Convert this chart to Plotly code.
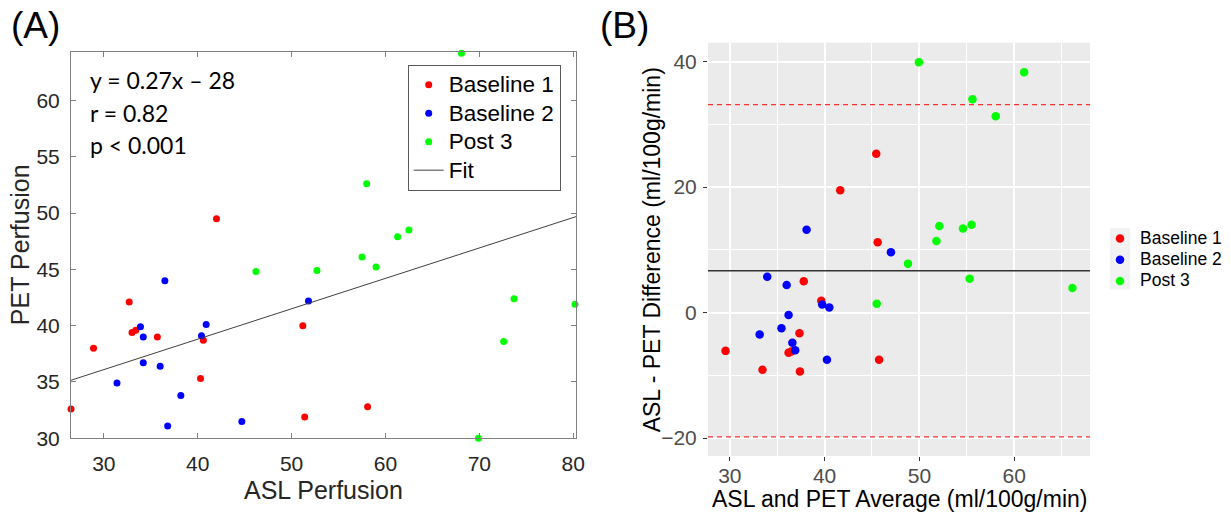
import numpy as np
import plotly.graph_objects as go

W, H = 1231, 514

# ---- data: ASL vs PET perfusion per session group ----
groups = ["Baseline 1", "Baseline 2", "Post 3"]
colors = {"Baseline 1": "#FF0000", "Baseline 2": "#0000FF", "Post 3": "#00FF00"}

asl_baseline1 = [42.0, 32.7, 33.0, 33.4, 35.7, 28.9, 40.6, 40.3, 26.5, 51.2, 58.1, 51.4]
pet_baseline1 = [49.5, 42.1, 39.4, 39.6, 39.0, 38.0, 38.7, 35.3, 32.6, 40.0, 32.8, 31.9]

asl_baseline2 = [36.5, 33.9, 34.2, 40.4, 40.9, 34.2, 36.0, 31.4, 38.2, 36.8, 44.7, 51.8]
pet_baseline2 = [44.0, 39.9, 39.0, 39.1, 40.1, 36.7, 36.4, 34.9, 33.8, 31.1, 31.5, 42.2]

asl_post3 = [68.1, 58.0, 61.3, 62.5, 57.5, 46.2, 52.7, 59.0, 73.7, 80.2, 72.6, 69.9]
pet_post3 = [64.2, 52.6, 47.9, 48.5, 46.1, 44.8, 44.9, 45.2, 42.4, 41.9, 38.6, 30.0]

asl = {"Baseline 1": asl_baseline1, "Baseline 2": asl_baseline2, "Post 3": asl_post3}
pet = {"Baseline 1": pet_baseline1, "Baseline 2": pet_baseline2, "Post 3": pet_post3}

# regression summary shown on panel A
fit_slope = 0.27
fit_intercept = 28
stats_lines = ["y = 0.27x \u2013 28", "r = 0.82", "p < 0.001"]

x_range_a = [26.5, 80.3]
y_range_a = [30.0, 64.3]
x_range_b = [27.7, 68.0]
y_range_b = [-22.85, 43.0]


def px_x(p):
    return p / W


def px_y(p):
    return 1 - p / H


def sized(text, size):
    # legend label drawn larger than the legend's row-spacing font
    return f"<span style='font-size:{size}px'>{text}</span>"


# plot areas (pixels)
A_L, A_R, A_T, A_B = 71, 576, 52, 438.3
B_L, B_R, B_T, B_B = 708, 1090, 42.7, 456

fig = go.Figure()

# ---- Panel A: scatter + linear fit ----
for g in groups:
    fig.add_trace(go.Scatter(
        x=asl[g], y=pet[g], mode="markers", name=sized(g, 22.5),
        marker=dict(color=colors[g], size=7, line=dict(width=0)),
        xaxis="x", yaxis="y", legend="legend", cliponaxis=False,
    ))

fit_x = np.array(x_range_a)
fig.add_trace(go.Scatter(
    x=fit_x, y=fit_slope * fit_x + fit_intercept, mode="lines", name=sized("Fit", 22.5),
    line=dict(color="#404040", width=1), xaxis="x", yaxis="y", legend="legend",
))

# ---- Panel B: Bland-Altman ----
all_diff = []
for g in groups:
    a = np.array(asl[g])
    p = np.array(pet[g])
    avg = (a + p) / 2
    diff = a - p
    all_diff.extend(diff.tolist())
    fig.add_trace(go.Scatter(
        x=avg, y=diff, mode="markers", name=sized(g, 17.5),
        marker=dict(color=colors[g], size=8.5, line=dict(width=0)),
        xaxis="x2", yaxis="y2", legend="legend2",
    ))

all_diff = np.array(all_diff)
bias = all_diff.mean()
sd = all_diff.std(ddof=1)
loa_hi = bias + 1.96 * sd
loa_lo = bias - 1.96 * sd

shapes = [
    # ggplot-style grey panel background
    dict(type="rect", xref="x2 domain", yref="y2 domain", x0=0, x1=1, y0=0, y1=1,
         fillcolor="#EBEBEB", line=dict(width=0), layer="below"),
    dict(type="line", xref="x2 domain", yref="y2", x0=0, x1=1, y0=bias, y1=bias,
         line=dict(color="#333333", width=1.5)),
    dict(type="line", xref="x2 domain", yref="y2", x0=0, x1=1, y0=loa_hi, y1=loa_hi,
         line=dict(color="#FF3030", width=1.3, dash="5px,4px")),
    dict(type="line", xref="x2 domain", yref="y2", x0=0, x1=1, y0=loa_lo, y1=loa_lo,
         line=dict(color="#FF3030", width=1.3, dash="5px,4px")),
    # legend key background for panel B
    dict(type="rect", xref="paper", yref="paper",
         x0=px_x(1110), x1=px_x(1130), y0=px_y(289.5), y1=px_y(228),
         fillcolor="#F2F2F2", line=dict(width=0), layer="below"),
]

font_a = "Liberation Sans, Arial, sans-serif"
tick_a = dict(family=font_a, size=21, color="#262626")
tick_b = dict(family=font_a, size=21, color="#4D4D4D")

annotations = []


def add_text(text, x, y, size, family=font_a, color="#262626", xanchor="center",
             yanchor="middle", angle=0):
    annotations.append(dict(
        text=text, x=px_x(x), y=px_y(y), xref="paper", yref="paper",
        xanchor=xanchor, yanchor=yanchor, showarrow=False, textangle=angle,
        font=dict(family=family, size=size, color=color),
    ))


add_text("(A)", 9, 25, 37, color="#000000", xanchor="left")
add_text("(B)", 598, 25, 37, color="#000000", xanchor="left")
for i, line in enumerate(stats_lines):
    add_text(line, 88, 80 + i * 32.5, 23, family="Lato, sans-serif",
             color="#000000", xanchor="left")
add_text("ASL Perfusion", (A_L + A_R) / 2, 490, 25)
add_text("PET Perfusion", 20, (A_T + A_B) / 2, 25, angle=-90)
add_text("ASL and PET Average (ml/100g/min)", (B_L + B_R) / 2, 499, 23, color="#000000")
add_text("ASL - PET Difference (ml/100g/min)", 652, (B_T + B_B) / 2, 23,
         color="#000000", angle=-90)

fig.update_layout(
    width=W, height=H,
    margin=dict(l=0, r=0, t=0, b=0, autoexpand=False),
    paper_bgcolor="white", plot_bgcolor="rgba(0,0,0,0)",
    showlegend=True,
    xaxis=dict(
        domain=[px_x(A_L), px_x(A_R)], anchor="y", range=x_range_a,
        tickmode="array", tickvals=[30, 40, 50, 60, 70, 80],
        ticks="inside", ticklen=5, tickcolor="#808080", tickwidth=1,
        showline=True, linecolor="#808080", linewidth=1, mirror="ticks",
        showgrid=False, zeroline=False, tickfont=tick_a, ticklabelstandoff=6,
    ),
    yaxis=dict(
        domain=[px_y(A_B), px_y(A_T)], anchor="x", range=y_range_a,
        tickmode="array", tickvals=[30, 35, 40, 45, 50, 55, 60],
        ticks="inside", ticklen=5, tickcolor="#808080", tickwidth=1,
        showline=True, linecolor="#808080", linewidth=1, mirror="ticks",
        showgrid=False, zeroline=False, tickfont=tick_a, ticklabelstandoff=6,
    ),
    xaxis2=dict(
        domain=[px_x(B_L), px_x(B_R)], anchor="y2", range=x_range_b,
        tickmode="linear", tick0=0, dtick=10,
        ticks="outside", ticklen=4, tickcolor="#333333", tickwidth=1,
        showline=False, showgrid=True, gridcolor="white", gridwidth=1.5,
        minor=dict(tick0=5, dtick=10, showgrid=True, gridcolor="white",
                   gridwidth=0.7, ticks=""),
        zeroline=False, tickfont=tick_b, ticklabelstandoff=-3,
    ),
    yaxis2=dict(
        domain=[px_y(B_B), px_y(B_T)], anchor="x2", range=y_range_b,
        tickmode="linear", tick0=0, dtick=20,
        ticks="outside", ticklen=4, tickcolor="#333333", tickwidth=1,
        showline=False, showgrid=True, gridcolor="white", gridwidth=1.5,
        minor=dict(tick0=10, dtick=20, showgrid=True, gridcolor="white",
                   gridwidth=0.7, ticks=""),
        zeroline=False, tickfont=tick_b, ticklabelstandoff=2,
    ),
    legend=dict(
        x=px_x(407.7), y=px_y(64.5), xanchor="left", yanchor="top",
        bgcolor="white", bordercolor="#5A5A5A", borderwidth=1,
        font=dict(family=font_a, size=19.6, color="#000000"),
        tracegroupgap=0,
    ),
    legend2=dict(
        x=px_x(1100), y=px_y(223), xanchor="left", yanchor="top",
        bgcolor="rgba(0,0,0,0)", borderwidth=0,
        font=dict(family=font_a, size=14, color="#000000"),
        tracegroupgap=0,
    ),
    shapes=shapes,
    annotations=annotations,
)

fig.write_html("out.html")
